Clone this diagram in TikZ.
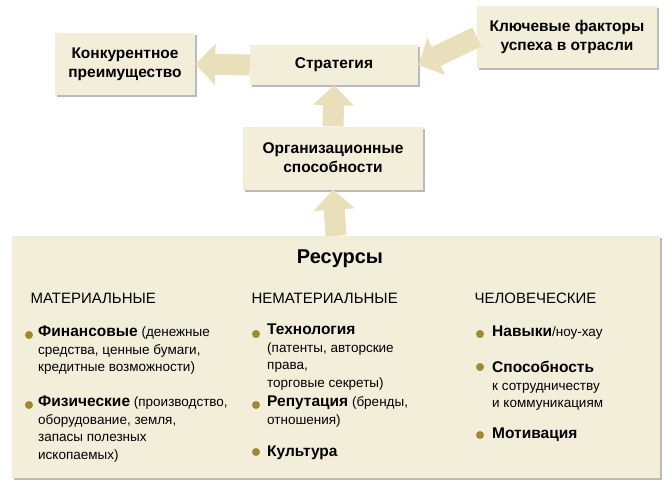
\documentclass[tikz,border=0pt]{standalone}
\usepackage{fontspec}
\setmainfont{Liberation Sans}
\usetikzlibrary{arrows.meta,shadows,positioning}
\definecolor{boxfill}{HTML}{F3EEDA}
\definecolor{arrowfill}{HTML}{E9DFBA}
\definecolor{dotcol}{HTML}{A08A30}
\tikzset{
  box/.style={fill=boxfill,align=center,font=\bfseries\fontsize{15.5}{19}\selectfont,
    drop shadow={shadow xshift=2pt,shadow yshift=-2pt,fill=black!45,opacity=.6}},
  bigarrow/.style={line width=21pt,arrowfill,-{Triangle[width=40pt,length=20pt]}},
  itm/.style={anchor=north west,align=left,inner sep=0pt,font=\fontsize{13.5}{17.5}\selectfont},
  dot/.style={circle,fill=dotcol,inner sep=0pt,minimum size=8pt}
}
\newcommand{\itb}[1]{{\bfseries\fontsize{15.5}{17.5}\selectfont #1}}
\begin{document}
\begin{tikzpicture}[x=1pt,y=-1pt]
  \useasboundingbox (0,0) rectangle (672,490);

  % boxes
  \node[box,minimum width=140pt,minimum height=62pt] (adv) at (125,64) {Конкурентное\\преимущество};
  \node[box,minimum width=168pt,minimum height=40pt] (strat) at (334,65) {Стратегия};
  \node[box,minimum width=180pt,minimum height=62pt] (kfs) at (567,37) {Ключевые факторы\\успеха в отрасли};
  \node[box,minimum width=180pt,minimum height=63pt] (org) at (333,158) {Организационные\\способности};
  \node[box,minimum width=648pt,minimum height=242pt] (res) at (336,357) {};

  % arrows
  \draw[bigarrow] (strat.west) -- (adv.east);
  \draw[bigarrow] (kfs.west) -- (strat.east);
  \draw[bigarrow] (org.north) -- (strat.south);
  \draw[bigarrow] (res.north) -- (org.south);

  % resources
  \node[font=\bfseries\fontsize{20}{22}\selectfont] (title) at (340,259) {Ресурсы};
  \node[font=\fontsize{15}{17}\selectfont,anchor=west] (mat) at (27,298) {МАТЕРИАЛЬНЫЕ};
  \node[font=\fontsize{15}{17}\selectfont,anchor=west] (nemat) at (248,298) {НЕМАТЕРИАЛЬНЫЕ};
  \node[font=\fontsize{15}{17}\selectfont,anchor=west] (hum) at (471,298) {ЧЕЛОВЕЧЕСКИЕ};

  % material
  \node[dot] (d1) at (29,335) {};
  \node[itm] (fin) at (38,326) {\itb{Финансовые} (денежные\\средства, ценные бумаги,\\кредитные возможности)};
  \node[dot] (d2) at (29,405) {};
  \node[itm] (phys) at (38,396) {\itb{Физические} (производство,\\оборудование, земля,\\запасы полезных\\ископаемых)};

  % intangible
  \node[dot] (d3) at (256,334) {};
  \node[itm] (tech) at (267,324) {\itb{Технология}\\(патенты, авторские\\права,\\торговые секреты)};
  \node[dot] (d4) at (256,405) {};
  \node[itm] (rep) at (267,396) {\itb{Репутация} (бренды,\\отношения)};
  \node[dot] (d5) at (256,452) {};
  \node[itm] (cult) at (267,446) {\itb{Культура}};

  % human
  \node[dot] (d6) at (480,334) {};
  \node[itm] (skill) at (492,326) {\itb{Навыки}/ноу-хау};
  \node[dot] (d7) at (480,367) {};
  \node[itm] (coop) at (492,361) {\itb{Способность}\\к сотрудничеству\\и коммуникациям};
  \node[dot] (d8) at (480,435) {};
  \node[itm] (mot) at (492,428) {\itb{Мотивация}};
\end{tikzpicture}
\end{document}
